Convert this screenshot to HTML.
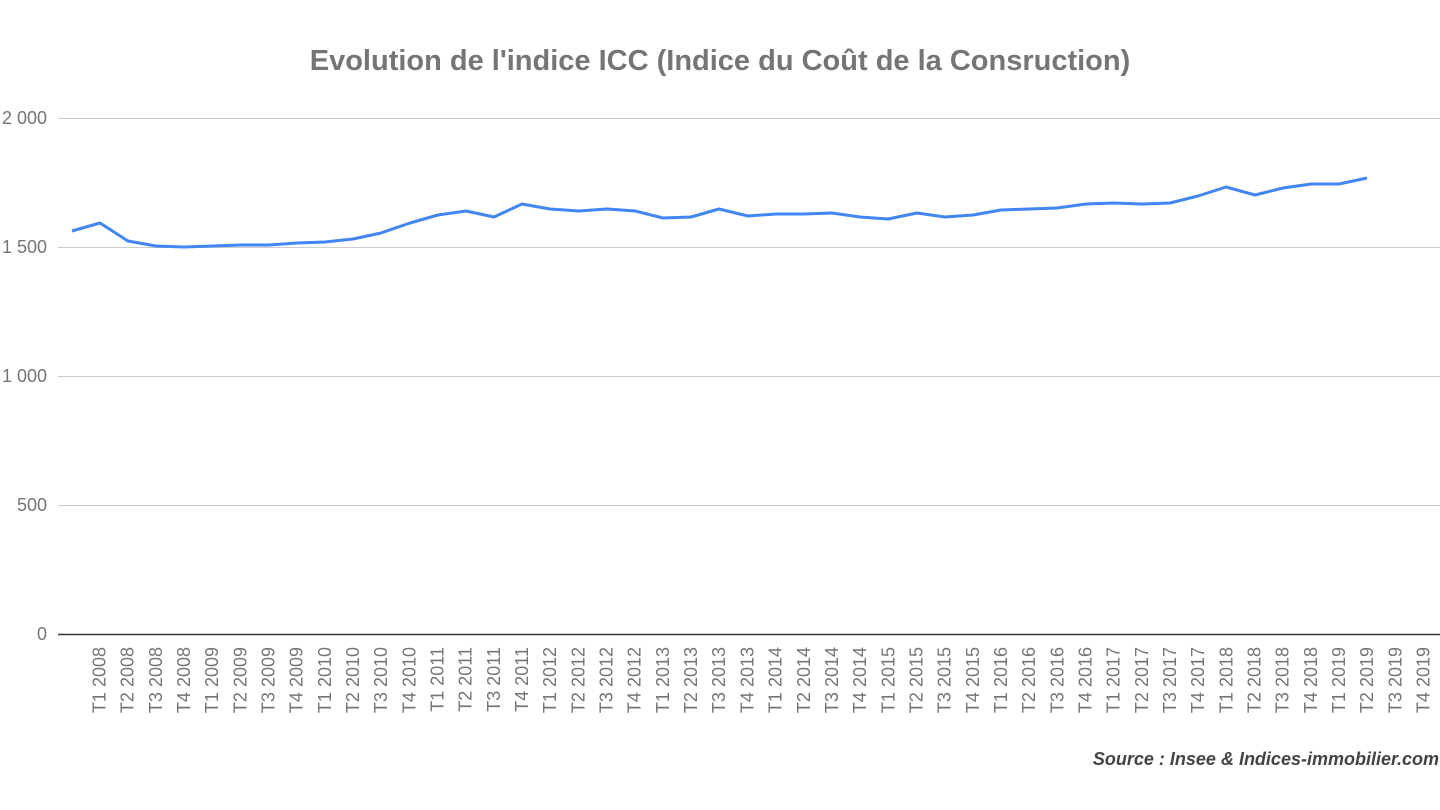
<!DOCTYPE html>
<html><head><meta charset="utf-8"><style>
html,body{margin:0;padding:0;background:#fff;width:1440px;height:810px;overflow:hidden}
</style></head><body>
<svg width="1440" height="810" xmlns="http://www.w3.org/2000/svg" font-family="Liberation Sans, sans-serif">
<text x="720" y="70" text-anchor="middle" font-size="29" font-weight="bold" fill="#757575">Evolution de l'indice ICC (Indice du Coût de la Consruction)</text>
<g stroke="#cccccc" stroke-width="1">
<line x1="58" x2="1440" y1="118.5" y2="118.5"/>
<line x1="58" x2="1440" y1="247.5" y2="247.5"/>
<line x1="58" x2="1440" y1="376.5" y2="376.5"/>
<line x1="58" x2="1440" y1="505.5" y2="505.5"/>
</g>
<line x1="58" x2="1440" y1="634.5" y2="634.5" stroke="#333" stroke-width="1.5"/>
<g font-size="18" fill="#757575" text-anchor="end">
<text x="47" y="124">2 000</text>
<text x="47" y="253">1 500</text>
<text x="47" y="382">1 000</text>
<text x="47" y="511">500</text>
<text x="47" y="640">0</text>
</g>
<polyline fill="none" stroke="#4285f4" stroke-width="3" stroke-linejoin="round" points="
72,231 100,223 128,241 156,246 184,247 212,246 241,245 269,245 297,243 325,242 353,239 381,233 410,223 438,215 466,211 494,217 522,204 550,209 579,211 607,209 635,211 663,218 691,217 719,209 748,216 776,214 804,214 832,213 860,217 888,219 917,213 945,217 973,215 1001,210 1029,209 1057,208 1086,204 1114,203 1142,204 1170,203 1198,196 1226,187 1255,195 1283,188 1311,184 1339,184 1367,178"/>
<g id="labels" font-size="18" fill="#757575"></g>
<text x="1439" y="765" text-anchor="end" font-size="18" font-weight="bold" font-style="italic" fill="#444">Source : Insee &amp; Indices-immobilier.com</text>
</svg>
<script>
var g=document.getElementById('labels'),s='';
for(var i=0;i<48;i++){var y=2008+Math.floor(i/4),q=i%4+1;var x=72+28.17*i+33.5;
s+='<text transform="translate('+x.toFixed(1)+',647) rotate(-90)" text-anchor="end">T'+q+' '+y+'</text>';}
g.innerHTML=s;
</script>
</body></html>
